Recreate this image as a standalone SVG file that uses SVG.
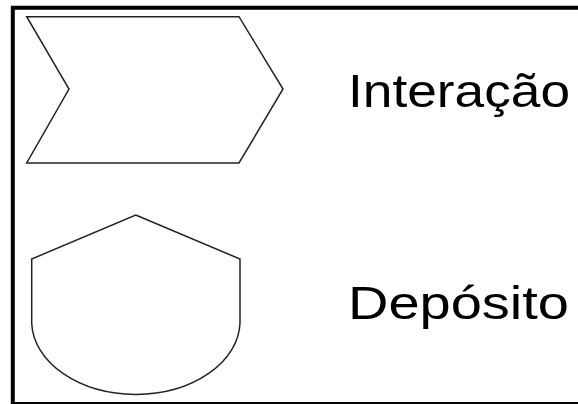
<svg xmlns="http://www.w3.org/2000/svg" width="578" height="404" viewBox="0 0 578 404">
<style>
.shape{fill:#fff;stroke:#222;stroke-width:1.5;stroke-linejoin:miter}
.lbl{font-family:"Liberation Sans",Arial,sans-serif;font-size:47px;fill:#000}
</style>
<rect width="578" height="404" fill="#fff"/>
<g id="frame">
<path d="M12.8 404 V7.8 H578" fill="none" stroke="#000" stroke-width="4"/>
<line x1="12" y1="403" x2="578" y2="403" stroke="#000" stroke-width="2"/>
</g>
<g id="interacao">
<polygon class="shape" points="26.7,16.7 239,16.7 283,89 239,163 26.7,163 69,89"/>
<text class="lbl" x="348" y="106.5" textLength="222" lengthAdjust="spacingAndGlyphs">Interação</text>
</g>
<g id="deposito">
<path class="shape" d="M135.7,215 L240,259 V323.3 A104.2,73.4 0 0 1 31.7,323.3 V259 Z"/>
<text class="lbl" x="348" y="319.3" textLength="221" lengthAdjust="spacingAndGlyphs">Depósito</text>
</g>
<g id="connectors"/>
</svg>
